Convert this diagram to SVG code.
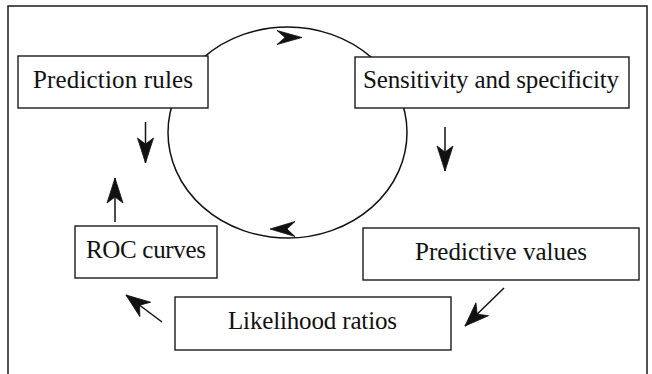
<svg xmlns="http://www.w3.org/2000/svg" width="652" height="374" viewBox="0 0 652 374">
  <style>
    .box { fill: #ffffff; stroke: #1a1a1a; stroke-width: 1.4; }
    .lbl { font-family: "Liberation Serif", "Times New Roman", serif; font-size: 25px; fill: #111111; text-anchor: middle; }
    .conn { fill: none; stroke: #111111; stroke-width: 1.5; }
    .head { fill: #111111; stroke: #111111; stroke-width: 0.8; stroke-linejoin: round; }
  </style>
  <defs>
    <marker id="ah" viewBox="-27 -10 28 20" refX="0" refY="0" markerWidth="28" markerHeight="20" markerUnits="userSpaceOnUse" orient="auto">
      <path d="M0,0 L-25,-8 L-19,0 L-25,8 Z" fill="#111111" stroke="#111111" stroke-width="0.8" stroke-linejoin="round"/>
    </marker>
    <marker id="ahd" viewBox="-27 -10 28 20" refX="0" refY="0" markerWidth="28" markerHeight="20" markerUnits="userSpaceOnUse" orient="auto">
      <path d="M0,0 L-24,-9 L-17,0 L-24,9 Z" fill="#111111" stroke="#111111" stroke-width="0.8" stroke-linejoin="round"/>
    </marker>
  </defs>
  <rect width="652" height="374" fill="#ffffff"/>
  <path id="frame" d="M8,380 L8,6 L647,6 L647,380" fill="none" stroke="#1a1a1a" stroke-width="1.5"/>

  <g id="connectors">
    <ellipse id="cycle" cx="287.5" cy="132.5" rx="119.5" ry="105.5" class="conn" stroke-width="1.3"/>
    <path class="head" d="M302,37.5 L277,30.5 L285,37.5 L277,44.5 Z"/>
    <path class="head" d="M270,229 L295,221.5 L287,229 L295,236.5 Z"/>
    <line class="conn" x1="145.5" y1="122" x2="145.5" y2="163" marker-end="url(#ah)"/>
    <line class="conn" x1="115" y1="222" x2="115" y2="178" marker-end="url(#ah)"/>
    <line class="conn" x1="445" y1="127" x2="445" y2="171" marker-end="url(#ah)"/>
    <line class="conn" x1="504" y1="288" x2="465" y2="326" stroke-width="2.2" marker-end="url(#ahd)"/>
    <line class="conn" x1="162" y1="322" x2="126" y2="295" stroke-width="2.2" marker-end="url(#ahd)"/>
  </g>

  <g id="prediction-rules">
    <rect class="box" x="18" y="56" width="190" height="52"/>
    <text class="lbl" x="113" y="88" textLength="160">Prediction rules</text>
  </g>
  <g id="sensitivity-specificity">
    <rect class="box" x="355" y="57" width="274" height="51"/>
    <text class="lbl" x="491" y="88" textLength="256">Sensitivity and specificity</text>
  </g>
  <g id="roc-curves">
    <rect class="box" x="75" y="226" width="142" height="52"/>
    <text class="lbl" x="146" y="258" textLength="120">ROC curves</text>
  </g>
  <g id="predictive-values">
    <rect class="box" x="363" y="228" width="276" height="52"/>
    <text class="lbl" x="501" y="260" textLength="172">Predictive values</text>
  </g>
  <g id="likelihood-ratios">
    <rect class="box" x="175" y="297" width="276" height="53"/>
    <text class="lbl" x="312.5" y="329" textLength="169">Likelihood ratios</text>
  </g>
</svg>
